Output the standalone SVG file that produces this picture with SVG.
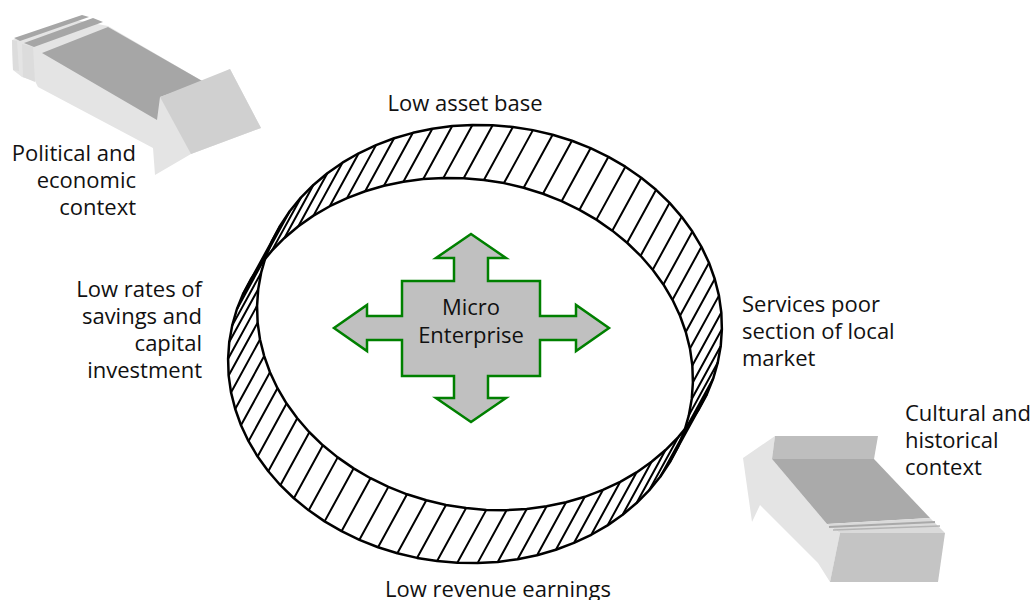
<svg xmlns="http://www.w3.org/2000/svg" width="1032" height="600" viewBox="0 0 1032 600">
<defs>
<style>
text{font-family:"Open Sans","DejaVu Sans",sans-serif;font-size:22px;fill:#111}
.rim{fill:none;stroke:#000;stroke-width:2.5;stroke-linejoin:round}
.hatch{fill:none;stroke:#000;stroke-width:2}
.lite{fill:#e4e4e4}
.dark{fill:#a6a6a6}
.mid{fill:#d0d0d0}
.end{fill:#c4c4c4}
</style>
<polygon id="rimB" points="233,0 232.1,16.7 229.5,33.3 225.1,49.7 218.9,65.7 211.2,81.1 201.8,96 190.9,110.1 178.5,123.4 164.8,135.8 149.8,147.1 133.6,157.3 116.5,166.3 98.5,174 79.7,180.4 60.3,185.5 40.4,189.1 20.3,191.3 0,192 -20.3,191.3 -40.4,189.1 -60.3,185.5 -79.7,180.4 -98.5,174 -116.5,166.3 -133.6,157.3 -149.8,147.1 -164.8,135.8 -178.5,123.4 -190.9,110.1 -201.8,96 -211.2,81.1 -218.9,65.7 -225.1,49.7 -229.5,33.3 -232.1,16.7 -233,0 -232.1,-16.7 -229.5,-33.3 -225.1,-49.7 -218.9,-65.7 -211.2,-81.1 -201.8,-96 -190.9,-110.1 -178.5,-123.4 -164.8,-135.8 -149.8,-147.1 -133.6,-157.3 -116.5,-166.3 -98.5,-174 -79.7,-180.4 -60.3,-185.5 -40.4,-189.1 -20.3,-191.3 0,-192 20.3,-191.3 40.4,-189.1 60.3,-185.5 79.7,-180.4 98.5,-174 116.5,-166.3 133.6,-157.3 149.8,-147.1 164.8,-135.8 178.5,-123.4 190.9,-110.1 201.8,-96 211.2,-81.1 218.9,-65.7 225.1,-49.7 229.5,-33.3 232.1,-16.7"/>
</defs>
<rect width="1032" height="600" fill="#fff"/>

<g id="connectors">
 <g id="arrow-political">
  <polygon class="lite" points="12,40 76,20 108,26 204,82 230,69 261,128 191,154 155,175 153,148 38,87 35,81 22,77 13,70"/>
  <polygon fill="#dcdcdc" points="12,40 17,41 19,71 13,70"/>
  <polygon fill="#dcdcdc" points="22,44 33,47 35,82 23,77"/>
  <polygon class="dark" points="14,38 82,15 89,17 20,41"/>
  <polygon class="dark" points="24,43 93,18 103,22 34,47"/>
  <polygon class="dark" points="42,53 108,27 204,82 160,97 157,120"/>
  <polygon class="mid" points="160,97 230,69 261,128 191,154"/>
 </g>
 <g id="arrow-cultural">
  <polygon class="lite" points="743,458 775,436 772,459 827,524 840,533 830,582 818,563 760,505 752,522"/>
  <polygon fill="#bebebe" points="775,436 878,436 874,459 772,459"/>
  <polygon fill="#aaaaaa" points="772,459 874,459 930,518 827,524"/>
  <polygon fill="#dadada" points="827,524 930,518 945,533 840,533"/>
  <line x1="829" y1="527" x2="935" y2="522" stroke="#a9a9a9" stroke-width="2"/>
  <line x1="833" y1="530" x2="940" y2="526" stroke="#b4b4b4" stroke-width="1.5"/>
  <polygon class="end" points="840,533 945,533 938,582 830,582"/>
 </g>
</g>

<g id="ring" transform="translate(460.5,370.5) rotate(7)">
 <use href="#rimB" class="rim"/>
 <use href="#rimB" class="rim" transform="translate(22.3,-56.1)"/>
 <path class="hatch" d="M233 0l22.3-56.1M232.1 16.7l22.3-56.1M229.5 33.3l22.3-56.1M225.1 49.7l22.3-56.1M218.9 65.7l22.3-56.1M211.2 81.1l22.3-56.1M201.8 96l22.3-56.1M190.9 110.1l22.3-56.1M178.5 123.4l22.3-56.1M164.8 135.8l22.3-56.1M149.8 147.1l22.3-56.1M133.6 157.3l22.3-56.1M116.5 166.3l22.3-56.1M98.5 174l22.3-56.1M79.7 180.4l22.3-56.1M60.3 185.5l22.3-56.1M40.4 189.1l22.3-56.1M20.3 191.3l22.3-56.1M0 192l22.3-56.1M-20.3 191.3l22.3-56.1M-40.4 189.1l22.3-56.1M-60.3 185.5l22.3-56.1M-79.7 180.4l22.3-56.1M-98.5 174l22.3-56.1M-116.5 166.3l22.3-56.1M-133.6 157.3l22.3-56.1M-149.8 147.1l22.3-56.1M-164.8 135.8l22.3-56.1M-178.5 123.4l22.3-56.1M-190.9 110.1l22.3-56.1M-201.8 96l22.3-56.1M-211.2 81.1l22.3-56.1M-218.9 65.7l22.3-56.1M-225.1 49.7l22.3-56.1M-229.5 33.3l22.3-56.1M-232.1 16.7l22.3-56.1M-233 0l22.3-56.1M-232.1 -16.7l22.3-56.1M-229.5 -33.3l22.3-56.1M-225.1 -49.7l22.3-56.1M-218.9 -65.7l22.3-56.1M-211.2 -81.1l22.3-56.1M-201.8 -96l22.3-56.1M-190.9 -110.1l22.3-56.1M-178.5 -123.4l22.3-56.1M-164.8 -135.8l22.3-56.1M-149.8 -147.1l22.3-56.1M-133.6 -157.3l22.3-56.1M-116.5 -166.3l22.3-56.1M-98.5 -174l22.3-56.1M-79.7 -180.4l22.3-56.1M-60.3 -185.5l22.3-56.1M-40.4 -189.1l22.3-56.1M-20.3 -191.3l22.3-56.1M0 -192l22.3-56.1M20.3 -191.3l22.3-56.1M40.4 -189.1l22.3-56.1M60.3 -185.5l22.3-56.1M79.7 -180.4l22.3-56.1M98.5 -174l22.3-56.1M116.5 -166.3l22.3-56.1M133.6 -157.3l22.3-56.1M149.8 -147.1l22.3-56.1M164.8 -135.8l22.3-56.1M178.5 -123.4l22.3-56.1M190.9 -110.1l22.3-56.1M201.8 -96l22.3-56.1M211.2 -81.1l22.3-56.1M218.9 -65.7l22.3-56.1M225.1 -49.7l22.3-56.1M229.5 -33.3l22.3-56.1M232.1 -16.7l22.3-56.1"/>
</g>

<g id="micro-enterprise">
 <path d="M471 234L506 258H488V281H540V316H576V305L609 328L576 351V340H540V376H488V398H506L471 422L436 398H454V376H402V340H367V351L334 328L367 305V316H402V281H454V258H436Z" fill="#c0c0c0" stroke="#008000" stroke-width="2.5" stroke-linejoin="miter"/>
 <text x="471" y="315" text-anchor="middle">Micro</text>
 <text x="471" y="343" text-anchor="middle">Enterprise</text>
</g>

<g id="label-asset"><text x="465" y="111" text-anchor="middle">Low asset base</text></g>
<g id="label-political">
 <text text-anchor="end"><tspan x="136" y="161">Political and</tspan><tspan x="136" y="188">economic</tspan><tspan x="136" y="215">context</tspan></text>
</g>
<g id="label-savings">
 <text text-anchor="end"><tspan x="202" y="297">Low rates of</tspan><tspan x="202" y="324">savings and</tspan><tspan x="202" y="351">capital</tspan><tspan x="202" y="378">investment</tspan></text>
</g>
<g id="label-services">
 <text><tspan x="742" y="312">Services poor</tspan><tspan x="742" y="339">section of local</tspan><tspan x="742" y="366">market</tspan></text>
</g>
<g id="label-cultural">
 <text><tspan x="905" y="421">Cultural and</tspan><tspan x="905" y="448">historical</tspan><tspan x="905" y="475">context</tspan></text>
</g>
<g id="label-revenue"><text x="498" y="597" text-anchor="middle">Low revenue earnings</text></g>
</svg>
